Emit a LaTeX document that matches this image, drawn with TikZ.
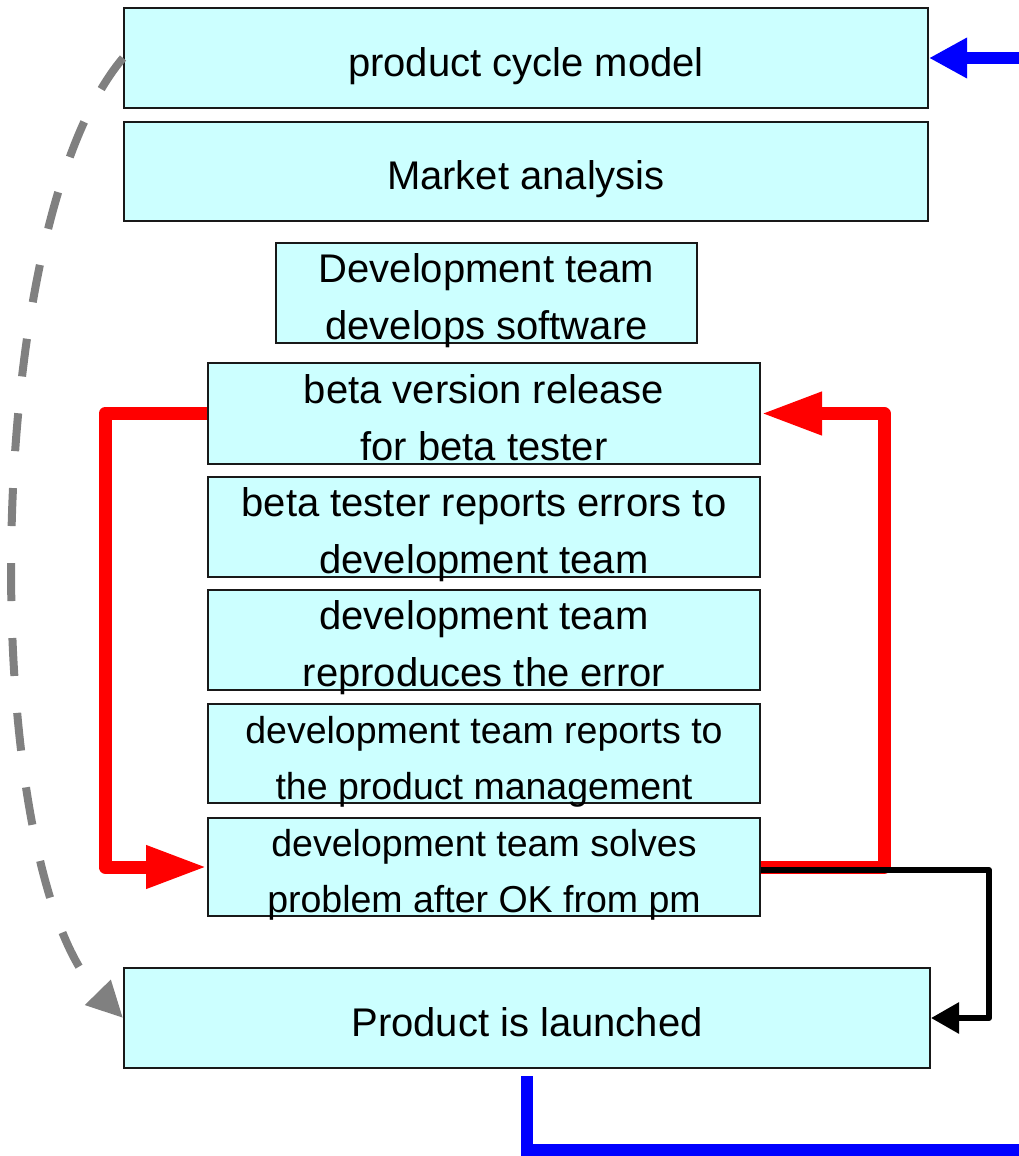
\documentclass[tikz,border=0pt]{standalone}
\usepackage{fontspec}
\setmainfont{Liberation Sans}
\usetikzlibrary{arrows.meta}

\definecolor{boxcyan}{HTML}{CCFFFF}
% text block centred 13pt below the box centre, without height of its own
\newcommand{\boxtext}[1]{\setbox0\hbox{\begin{tabular}{@{}c@{}}#1\end{tabular}}%
    \raisebox{\dimexpr(\dp0-\ht0)/2-13pt\relax}[0pt][0pt]{\box0}}

\tikzset{
        stage/.style = {rectangle,fill=boxcyan,draw=black!90,line width=2pt,minimum height=100pt,inner sep=0pt,font=\fontsize{40}{57}\selectfont},
        small/.style = {font=\fontsize{37.5}{56}\selectfont},
        redflow/.style = {draw=red,line width=13pt,line join=round,-{Triangle[length=61pt,width=40pt]}},
        blackflow/.style = {draw=black,line width=6pt,line join=round,-{Triangle[length=28pt,width=30pt]}},
        blueflow/.style = {draw=blue,line width=12pt},
        grayflow/.style = {draw=black!50,line width=8pt,dash pattern=on 38pt off 37pt,-{Triangle[length=36pt,width=34pt]}}
    }

\begin{document}
\begin{tikzpicture}[x=1pt,y=-1pt]
            \useasboundingbox (0,0) rectangle (1019,1156);

            \node[stage,minimum width=804pt] (model) at (526, 58) {\boxtext{product cycle model}};
            \node[stage,minimum width=804pt,minimum height=99pt] (market) at (526, 171.5) {\boxtext{Market analysis}};
            \node[stage,minimum width=421pt] (develop) at (486.5, 293) {\boxtext{Development team\\develops software}};
            \node[stage,minimum width=552pt,minimum height=101pt] (beta) at (484, 413.5) {\boxtext{beta version release\\for beta tester}};
            \node[stage,minimum width=552pt] (report) at (484, 527) {\boxtext{beta tester reports errors to\\development team}};
            \node[stage,minimum width=552pt] (reproduce) at (484, 640) {\boxtext{development team\\reproduces the error}};
            \node[stage,small,minimum width=552pt,minimum height=99pt] (inform) at (484, 753.5) {\boxtext{development team reports to\\the product management}};
            \node[stage,small,minimum width=552pt,minimum height=98pt] (solve) at (484, 867) {\boxtext{development team solves\\problem after OK from pm}};
            \node[stage,minimum width=806pt] (launch) at (527, 1018) {\boxtext{Product is launched}};

            \coordinate (cyclein) at (1025, 58);
            \coordinate (cycleout) at (1025, 1150);

            % beta loop
            \draw[redflow] (beta.west) -- ++(-102,0) |- (solve.west);
            \draw[redflow] (solve.east) -- ++(123,0) |- (beta.east);
            \draw[blackflow] ([yshift=-3pt]solve.east) -- ++(228,0) |- (launch.east);

            % back to the model
            \draw[blueflow] ([yshift=-7pt]launch.south) |- (cycleout);
            \draw[blueflow,-{Triangle[length=38pt,width=38pt]}] (cyclein) -- (model.east);
            \draw[grayflow] (model.west) .. controls (-22,230) and (-22,870) .. (launch.west);
        \end{tikzpicture}
\end{document}
